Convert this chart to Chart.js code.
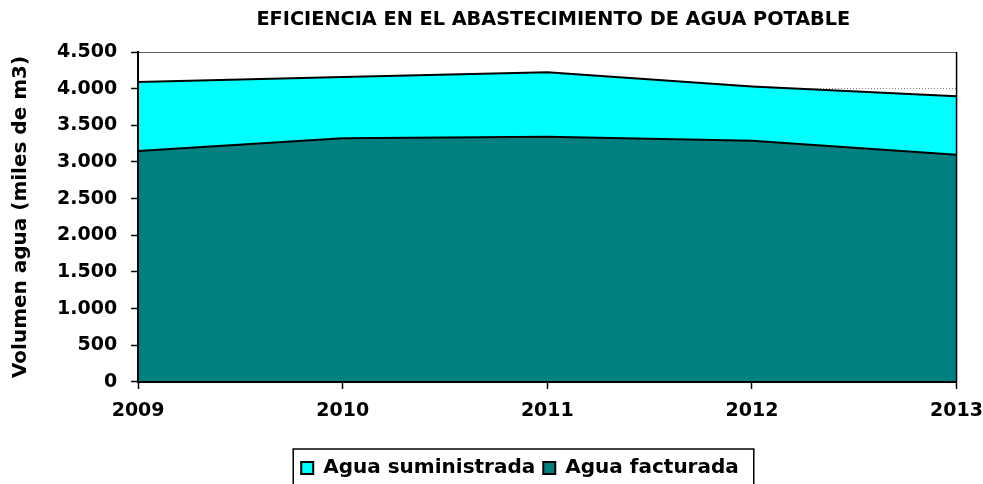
<!DOCTYPE html>
<html>
<head>
<meta charset="utf-8">
<script src="https://cdn.jsdelivr.net/npm/chart.js@4"></script>
<style>
  body { margin: 0; background: #fff; }
</style>
</head>
<body>
<canvas id="aguaChart" width="983" height="484"></canvas>
<script>
// Datos (miles de m3)
const anios = ['2009', '2010', '2011', '2012', '2013'];
const aguaSuministrada = [4090, 4160, 4225, 4030, 3895];
const aguaFacturada = [3150, 3325, 3345, 3290, 3100];
const titulo = 'EFICIENCIA EN EL ABASTECIMIENTO DE AGUA POTABLE';
const tituloEjeY = 'Volumen agua (miles de m3)';

const fuente = '"DejaVu Sans", Verdana, sans-serif';

// Formato con punto de miles: 4500 -> 4.500
function formatoMiles(v) {
    return String(v).replace(/\B(?=(\d{3})+(?!\d))/g, '.');
}

// Título centrado sobre el área del gráfico
const tituloPlugin = {
    id: 'tituloPlugin',
    afterDraw(chart) {
        const { ctx, chartArea } = chart;
        ctx.save();
        ctx.font = 'bold 19.3px ' + fuente;
        ctx.fillStyle = '#000';
        ctx.textAlign = 'center';
        ctx.textBaseline = 'middle';
        ctx.fillText(titulo, (chartArea.left + chartArea.right) / 2 + 6, 20);
        ctx.restore();
    }
};

// Marco del área de trazado (arriba y derecha)
const marcoPlugin = {
    id: 'marcoPlugin',
    afterDatasetsDraw(chart) {
        const { ctx, chartArea: a } = chart;
        ctx.save();
        ctx.strokeStyle = '#606060';
        ctx.lineWidth = 1;
        ctx.beginPath();
        ctx.moveTo(a.left, a.top + 0.5);
        ctx.lineTo(a.right, a.top + 0.5);
        ctx.stroke();
        ctx.strokeStyle = '#000';
        ctx.lineWidth = 1.5;
        ctx.beginPath();
        ctx.moveTo(a.right, a.top);
        ctx.lineTo(a.right, a.bottom);
        ctx.stroke();
        ctx.restore();
    }
};

// Mover la leyenda hacia abajo / derecha y dibujar su recuadro
const leyendaPlugin = {
    id: 'leyendaPlugin',
    afterLayout(chart) {
        const l = chart.legend;
        l.top += 16; l.bottom += 16;
        l.left += 26; l.right += 26;
    },
    afterDraw(chart) {
        const cajas = chart.legend.legendHitBoxes;
        if (!cajas || !cajas.length) return;
        const primera = cajas[0];
        const ultima = cajas[cajas.length - 1];
        const x1 = primera.left - 8;
        const x2 = ultima.left + ultima.width + 15;
        const yc = primera.top + primera.height / 2;
        const ctx = chart.ctx;
        ctx.save();
        ctx.strokeStyle = '#000';
        ctx.lineWidth = 1.5;
        ctx.strokeRect(x1, yc - 19, x2 - x1, 40);
        ctx.restore();
    }
};

const ctx = document.getElementById('aguaChart').getContext('2d');
new Chart(ctx, {
    type: 'line',
    data: {
        labels: anios,
        datasets: [{
            label: 'Agua suministrada',
            data: aguaSuministrada,
            backgroundColor: '#00FFFF',
            borderColor: '#000',
            borderWidth: 2,
            fill: 'origin',
            pointRadius: 0,
            tension: 0,
            order: 2
        }, {
            label: 'Agua facturada',
            data: aguaFacturada,
            backgroundColor: '#008080',
            borderColor: '#000',
            borderWidth: 2,
            fill: 'origin',
            pointRadius: 0,
            tension: 0,
            order: 1
        }]
    },
    options: {
        responsive: false,
        animation: false,
        layout: {
            padding: { left: 5, right: 0, top: 52, bottom: 12 }
        },
        plugins: {
            title: { display: false },
            tooltip: { enabled: false },
            legend: {
                position: 'bottom',
                labels: {
                    boxWidth: 12,
                    boxHeight: 12,
                    padding: 8,
                    color: '#000',
                    font: { family: fuente, size: 20, weight: 'bold' },
                    sort: (a, b) => a.datasetIndex - b.datasetIndex
                }
            }
        },
        scales: {
            x: {
                offset: false,
                grid: {
                    drawOnChartArea: false,
                    drawTicks: true,
                    tickLength: 7,
                    tickColor: '#000',
                    tickWidth: 1.5,
                    offset: false
                },
                border: { color: '#000', width: 2, z: 1 },
                ticks: {
                    color: '#000',
                    padding: 0,
                    maxRotation: 0,
                    font: { family: fuente, size: 19, weight: 'bold', lineHeight: 2.37 }
                }
            },
            y: {
                min: 0,
                max: 4500,
                grid: {
                    color: '#808080',
                    lineWidth: 1,
                    tickLength: 7,
                    tickColor: '#000',
                    tickWidth: 1.5
                },
                border: { color: '#000', width: 2, dash: [1, 2], z: 1 },
                ticks: {
                    stepSize: 500,
                    color: '#000',
                    padding: 14,
                    font: { family: fuente, size: 19, weight: 'bold' },
                    callback: (v) => formatoMiles(v)
                },
                title: {
                    display: true,
                    text: tituloEjeY,
                    color: '#000',
                    padding: { top: 4, bottom: 10 },
                    font: { family: fuente, size: 20, weight: 'bold' }
                }
            }
        }
    },
    plugins: [tituloPlugin, marcoPlugin, leyendaPlugin]
});
</script>
</body>
</html>
